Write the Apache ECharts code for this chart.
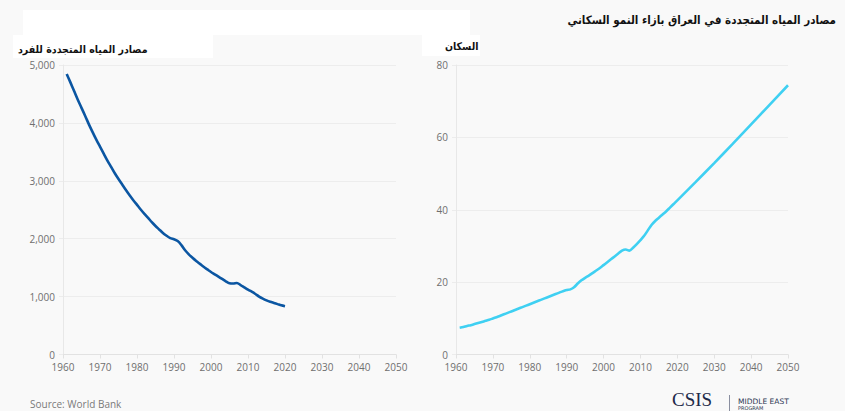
<!DOCTYPE html>
<html><head><meta charset="utf-8">
<script src="https://cdn.jsdelivr.net/npm/echarts@6/dist/echarts.min.js"></script>
<style>html,body{margin:0;padding:0;background:#f9f9f9}#c{width:845px;height:411px}</style>
</head><body><div id="c"></div>
<script>
const mainTitle = "مصادر المياه المتجددة في العراق بازاء النمو السكاني";
const waterTitle = "مصادر المياه المتجددة للفرد";
const popTitle = "السكان";
const sourceText = "Source: World Bank";

const waterYears = [1961,1962,1963,1964,1965,1966,1967,1968,1969,1970,1971,1972,1973,1974,1975,1976,1977,1978,1979,1980,1981,1982,1983,1984,1985,1986,1987,1988,1989,1990,1991,1992,1993,1994,1995,1996,1997,1998,1999,2000,2001,2002,2003,2004,2005,2006,2007,2008,2009,2010,2011,2012,2013,2014,2015,2016,2017,2018,2019,2020];
const waterValues = [4845,4700,4550,4400,4260,4120,3975,3840,3710,3590,3470,3350,3240,3130,3030,2935,2840,2750,2665,2585,2505,2430,2360,2285,2220,2160,2100,2050,2010,1990,1960,1890,1800,1730,1670,1615,1565,1515,1470,1425,1385,1345,1305,1265,1230,1225,1235,1200,1160,1120,1085,1045,1000,965,935,910,890,870,850,835];

const popYears = [1961,1962,1963,1964,1965,1966,1967,1968,1969,1970,1971,1972,1973,1974,1975,1976,1977,1978,1979,1980,1981,1982,1983,1984,1985,1986,1987,1988,1989,1990,1991,1992,1993,1994,1995,1996,1997,1998,1999,2000,2001,2002,2003,2004,2005,2006,2007,2008,2009,2010,2011,2012,2013,2014,2015,2016,2017,2018,2019,2020,2025,2030,2035,2040,2045,2050];
const popValues = [7.4,7.6,7.9,8.1,8.4,8.7,9.0,9.3,9.6,9.95,10.3,10.7,11.1,11.5,11.9,12.3,12.7,13.1,13.5,13.9,14.3,14.7,15.1,15.5,15.9,16.3,16.7,17.1,17.5,17.8,18.0,18.6,19.6,20.5,21.2,21.8,22.5,23.2,23.9,24.7,25.5,26.3,27.1,27.9,28.7,29.0,28.7,29.5,30.5,31.6,32.8,34.3,35.8,36.9,37.8,38.7,39.6,40.6,41.6,42.6,47.7,52.9,58.2,63.6,69.0,74.4];

const xTicks = {min:1960, max:2050, interval:10};
const waterTicks = {min:0, max:5000, interval:1000};
const popTicks = {min:0, max:80, interval:20};

const chart = echarts.init(document.getElementById('c'), null, {renderer:'svg'});
const axisLbl = {color:'#6f6f6f', fontSize:10, fontFamily:'Open Sans'};
const arFont = '"DejaVu Sans Condensed", "DejaVu Sans"';
function xAx(gi){return {type:'value', gridIndex:gi, min:xTicks.min, max:xTicks.max, interval:xTicks.interval,
  axisLine:{lineStyle:{color:'#e2e2e2'}}, axisTick:{show:true,length:4,lineStyle:{color:'#e2e2e2'}},
  axisLabel:Object.assign({margin:7, formatter:v=>String(v)}, axisLbl), splitLine:{show:false}};}
function yAx(gi,t,fmt){return {type:'value', gridIndex:gi, min:t.min, max:t.max, interval:t.interval,
  axisLine:{show:true,lineStyle:{color:'#e8e8e8'}}, axisTick:{show:true,length:4,lineStyle:{color:'#ececec'}},
  axisLabel:Object.assign({margin:8, formatter:fmt}, axisLbl), splitLine:{lineStyle:{color:'#ededed'}}};}

chart.setOption({
  backgroundColor:'#f9f9f9',
  animation:false,
  graphic:[
    {type:'rect', z:0, shape:{x:23,y:10,width:447,height:25}, style:{fill:'#ffffff'}},
    {type:'rect', z:0, shape:{x:13,y:35,width:200,height:23}, style:{fill:'#ffffff'}},
    {type:'rect', z:0, shape:{x:422,y:35,width:58,height:21}, style:{fill:'#ffffff'}},
    {type:'text', z:5, left:30, top:399, style:{text:sourceText, fill:'#7a7a7a', font:'10px "Open Sans"'}},
    {type:'text', z:5, left:672, top:390, style:{text:'CSIS', fill:'#1e2a4a', font:'19px "Liberation Serif"'}},
    {type:'rect', z:5, shape:{x:729,y:395,width:1,height:16}, style:{fill:'#8a8fa0'}},
    {type:'text', z:5, left:738, top:397, style:{text:'MIDDLE EAST', fill:'#2a3552', font:'7.5px "DejaVu Sans"'}},
    {type:'text', z:5, left:738, top:405, style:{text:'PROGRAM', fill:'#2a3552', font:'5px "DejaVu Sans"'}}
  ],
  title:[
    {text:mainTitle, right:4, top:9, textStyle:{fontSize:11.5, fontWeight:'bold', color:'#111', fontFamily:arFont}},
    {text:waterTitle, left:13, top:38, textStyle:{fontSize:10.5, fontWeight:'bold', color:'#111', fontFamily:arFont}},
    {text:popTitle, left:440, top:35, textStyle:{fontSize:10.5, fontWeight:'bold', color:'#111', fontFamily:arFont}}
  ],
  grid:[
    {left:63, right:449, top:65, bottom:56.5},
    {left:456, right:57, top:65, bottom:56.5}
  ],
  xAxis:[xAx(0), xAx(1)],
  yAxis:[yAx(0,waterTicks,v=>v.toLocaleString('en-US')), yAx(1,popTicks,v=>String(v))],
  series:[
    {type:'line', xAxisIndex:0, yAxisIndex:0, data:waterYears.map((y,i)=>[y,waterValues[i]]),
     showSymbol:false, smooth:0.3, lineStyle:{color:'#0b56a2', width:2.6}},
    {type:'line', xAxisIndex:1, yAxisIndex:1, data:popYears.map((y,i)=>[y,popValues[i]]),
     showSymbol:false, smooth:0.3, lineStyle:{color:'#3fd0f2', width:2.6}}
  ]
});
</script></body></html>
